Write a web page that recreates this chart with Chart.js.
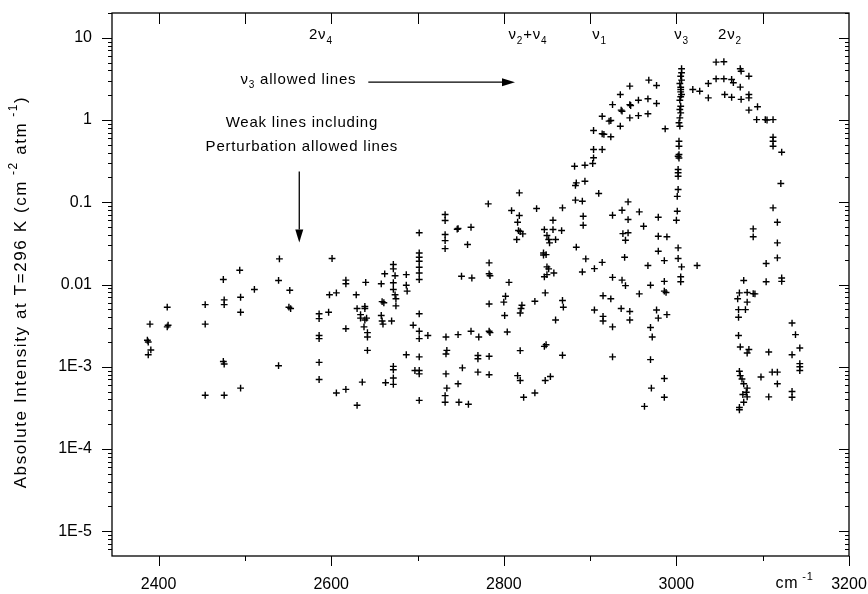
<!DOCTYPE html>
<html>
<head>
<meta charset="utf-8">
<script src="https://cdn.jsdelivr.net/npm/chart.js@4.4.1/dist/chart.umd.min.js"></script>
<style>
  html, body { margin: 0; padding: 0; background: #fff; }
</style>
</head>
<body>
<canvas id="chart" width="868" height="594"></canvas>
<script>
// ===== DATA (wavenumber cm-1, intensity cm-2 atm-1) =====

const lowBand = [
  [2390, 3.3e-3], [2387, 2.1e-3], [2388, 2.0e-3], [2391, 1.6e-3], [2388, 1.4e-3],
  [2410, 5.3e-3], [2410, 3.05e-3], [2411, 3.2e-3],
  [2454, 5.7e-3], [2454, 3.3e-3], [2454, 4.5e-4],
  [2475, 0.0115], [2476, 6.5e-3], [2476, 5.7e-3], [2475, 1.16e-3], [2476, 1.08e-3], [2476, 4.5e-4],
  [2494, 0.0149], [2495, 7.0e-3], [2495, 4.6e-3], [2495, 5.5e-4],
  [2511, 8.7e-3],
  [2540, 0.0205], [2539, 0.0112], [2539, 1.03e-3],
  [2552, 8.5e-3], [2551, 5.3e-3], [2553, 5.1e-3],
  [2586, 4.4e-3], [2586, 3.85e-3], [2586, 2.4e-3], [2586, 2.2e-3], [2586, 1.13e-3], [2586, 7.0e-4],
  [2597, 4.6e-3], [2598, 7.5e-3], [2601, 0.0207], [2606, 7.9e-3], [2606, 4.8e-4],
  [2617, 0.0113], [2617, 0.0102], [2617, 2.9e-3], [2617, 5.3e-4],
  [2629, 7.5e-3], [2630, 5.1e-3], [2630, 3.4e-4], [2634, 4.3e-3], [2634, 3.9e-3],
  [2639, 5.4e-3], [2639, 5.1e-3], [2639, 3.7e-3], [2638, 3.05e-3], [2641, 3.9e-3],
  [2642, 2.6e-3], [2642, 2.3e-3], [2642, 1.58e-3], [2636, 6.5e-4], [2640, 0.0106],
  [2658, 0.0102], [2662, 0.0135], [2659, 6.2e-3], [2661, 6.0e-3], [2658, 4.2e-3],
  [2659, 3.6e-3], [2660, 3.3e-3], [2670, 3.6e-3], [2663, 6.4e-4],
  [2672, 0.0175], [2672, 0.0155], [2674, 0.0128], [2672, 0.0105], [2672, 8.7e-3],
  [2674, 7.5e-3], [2675, 6.7e-3], [2675, 5.5e-3], [2672, 1.01e-3], [2672, 9.2e-4],
  [2672, 7.3e-4], [2672, 6.1e-4],
  [2687, 0.0132], [2687, 9.8e-3], [2688, 8.3e-3], [2687, 1.4e-3]
];

const midBand = [
  [2695, 3.2e-3],
  [2702, 0.0425], [2702, 0.0242], [2702, 0.0214], [2702, 0.0192], [2702, 0.0162],
  [2702, 0.0138], [2702, 0.0115], [2702, 4.4e-3], [2702, 2.7e-3], [2702, 2.2e-3],
  [2712, 2.4e-3], [2702, 1.32e-3], [2697, 9.0e-4], [2702, 9.0e-4], [2702, 8.2e-4], [2702, 3.9e-4],
  [2732, 0.0709], [2732, 0.06], [2732, 0.0405], [2732, 0.0342], [2732, 0.0273],
  [2733, 2.3e-3], [2734, 1.58e-3], [2733, 1.43e-3], [2733, 8.2e-4], [2734, 5.5e-4],
  [2732, 4.45e-4], [2732, 3.7e-4],
  [2747, 0.0479], [2746, 0.047], [2762, 0.0497], [2758, 0.0306], [2751, 0.0126], [2763, 0.012],
  [2747, 2.46e-3], [2762, 2.7e-3], [2771, 2.3e-3], [2752, 9.7e-4], [2747, 6.2e-4],
  [2748, 3.7e-4], [2759, 3.5e-4], [2770, 1.37e-3], [2770, 1.25e-3], [2770, 8.6e-4],
  [2782, 0.0956], [2783, 0.0183], [2783, 0.0135], [2784, 0.0128], [2783, 5.8e-3],
  [2783, 2.7e-3], [2784, 2.6e-3], [2783, 1.34e-3], [2783, 8.0e-4],
  [2806, 0.0106], [2802, 7.2e-3], [2800, 6.1e-3], [2801, 4.2e-3], [2804, 2.65e-3],
  [2818, 0.13], [2809, 0.0793], [2818, 0.0689], [2816, 0.0571], [2817, 0.0453],
  [2819, 0.044], [2822, 0.0413], [2815, 0.0352], [2821, 5.6e-3], [2820, 5.1e-3],
  [2819, 4.5e-3], [2819, 1.57e-3], [2816, 7.8e-4], [2819, 6.8e-4], [2823, 4.25e-4],
  [2836, 4.8e-4], [2836, 6.25e-3], [2838, 0.0838],
  [2847, 0.0466], [2857, 0.0604], [2857, 0.0466], [2867, 0.0453], [2850, 0.0394],
  [2852, 0.0352], [2860, 0.0352], [2853, 0.0321], [2868, 0.0855], [2846, 0.0242],
  [2849, 0.0231], [2846, 0.0228], [2850, 0.0164], [2852, 0.0155], [2858, 0.0138],
  [2847, 0.0124], [2850, 0.0132], [2848, 7.9e-3], [2860, 3.7e-3], [2868, 6.4e-3],
  [2869, 5.3e-3], [2868, 1.38e-3], [2847, 1.77e-3], [2849, 1.85e-3], [2848, 6.8e-4], [2854, 7.6e-4]
];

const nu1Band = [
  [2882, 0.274], [2894, 0.282], [2903, 0.296], [2883, 0.16], [2894, 0.18], [2884, 0.172],
  [2883, 0.106], [2891, 0.103], [2910, 0.128], [2892, 0.0676], [2892, 0.0525],
  [2884, 0.0284], [2895, 0.0205], [2891, 0.0142], [2905, 0.0156], [2914, 0.0186]
];

const nu3Pbranch = [
  [2968, 3.05], [2977, 2.63], [2946, 2.58], [2935, 2.04], [2967, 1.81], [2956, 1.74],
  [2926, 1.54], [2946, 1.54], [2947, 1.5], [2977, 1.59], [2936, 1.32], [2937, 1.28],
  [2914, 1.11], [2924, 0.986], [2922, 0.97], [2935, 0.841], [2946, 1.06], [2956, 1.13],
  [2967, 1.19], [2904, 0.745], [2914, 0.68], [2916, 0.67], [2924, 0.625], [2987, 0.782],
  [2904, 0.438], [2914, 0.438], [2904, 0.347]
];

const weakHigh = [
  [2926, 0.0695], [2937, 0.0799], [2944, 0.101], [2944, 0.0616], [2957, 0.0764],
  [2938, 0.0416], [2944, 0.0425], [2941, 0.0345], [2962, 0.0511], [2979, 0.0657],
  [2979, 0.0386], [2989, 0.038], [2979, 0.0254], [2986, 0.0195], [2967, 0.017],
  [2940, 0.0214], [2926, 0.0122], [2937, 0.0113], [2941, 9.7e-3], [2970, 9.8e-3],
  [2957, 7.7e-3], [2986, 0.0109], [2986, 8.3e-3], [2988, 8.0e-3], [2915, 7.3e-3],
  [2924, 6.7e-3], [2905, 4.9e-3], [2915, 4.1e-3], [2915, 3.6e-3], [2926, 3.05e-3],
  [2936, 5.1e-3], [2946, 4.7e-3], [2946, 3.7e-3], [2977, 4.9e-3], [2979, 3.9e-3],
  [2989, 4.3e-3], [2970, 3.0e-3], [2972, 2.3e-3], [2926, 1.32e-3], [2970, 1.22e-3],
  [2986, 7.2e-4], [2971, 5.5e-4], [2986, 4.25e-4], [2963, 3.3e-4], [3024, 0.017]
];

const nu3Qbranch = [
  [3006, 4.2], [3006, 3.75], [3005, 3.41], [3006, 3.05], [3004, 2.78], [3005, 2.5],
  [3005, 2.35], [3005, 2.2], [3006, 2.04], [3005, 1.92], [3004, 1.74], [3005, 1.47],
  [3004, 1.34], [3005, 1.22], [3004, 1.06], [3003, 0.925], [3004, 0.841], [3003, 0.552],
  [3003, 0.48], [3003, 0.38], [3002, 0.363], [3003, 0.345], [3002, 0.25], [3002, 0.228],
  [3002, 0.207], [3002, 0.143], [3001, 0.118], [3001, 0.0778], [3000, 0.0604],
  [3002, 0.0279], [3002, 0.0207], [3006, 0.0164], [3005, 0.0124], [3005, 0.0108]
];

const nu3Rbranch = [
  [3019, 2.35], [3027, 2.24], [3037, 2.78], [3037, 1.86], [3046, 5.05], [3055, 5.11],
  [3046, 3.17], [3055, 3.17], [3064, 3.11], [3066, 2.84], [3074, 4.2], [3075, 3.92],
  [3084, 3.41], [3074, 2.51], [3056, 2.04], [3064, 1.89], [3075, 1.78], [3084, 2.04],
  [3084, 1.86], [3084, 1.32], [3094, 1.45], [3093, 1.01], [3103, 1.01], [3105, 1.0],
  [3112, 1.01], [3112, 0.618], [3112, 0.552], [3112, 0.48], [3122, 0.406], [3121, 0.169],
  [3112, 0.0855], [3117, 0.0571], [3117, 0.0321], [3117, 0.0211], [3104, 0.018],
  [3104, 0.0108], [3122, 0.012], [3122, 0.0109], [3089, 0.0475], [3089, 0.038]
];

const weakEdge = [
  [3078, 0.0112], [3073, 7.9e-3], [3082, 8.0e-3], [3089, 7.75e-3], [3091, 7.7e-3],
  [3071, 6.7e-3], [3082, 6.1e-3], [3072, 4.95e-3], [3080, 4.95e-3], [3072, 4.0e-3],
  [3072, 2.4e-3], [3074, 1.74e-3], [3084, 1.62e-3], [3082, 1.47e-3], [3107, 1.51e-3],
  [3134, 3.4e-3], [3138, 2.46e-3], [3143, 1.69e-3], [3134, 1.4e-3], [3143, 1.09e-3],
  [3143, 1.0e-3], [3143, 9.0e-4], [3073, 8.8e-4], [3074, 7.8e-4], [3076, 7.1e-4],
  [3078, 6.2e-4], [3082, 5.5e-4], [3081, 4.9e-4], [3077, 4.6e-4], [3082, 4.3e-4],
  [3078, 3.7e-4], [3073, 3.2e-4], [3073, 3.0e-4], [3098, 7.5e-4], [3111, 8.6e-4],
  [3117, 8.6e-4], [3117, 6.2e-4], [3107, 4.3e-4], [3134, 5.0e-4], [3134, 4.25e-4]
];

const groups = [lowBand, midBand, nu1Band, nu3Pbranch, weakHigh, nu3Qbranch, nu3Rbranch, weakEdge];

const xTicks = [2400, 2600, 2800, 3000, 3200];

// band labels along the top: [wavenumber, intensity, parts]
const bandLabels = [
  [2588, 10.7, [["2ν", 0], ["4", -1]]],
  [2828, 10.7, [["ν", 0], ["2", -1], ["+ν", 0], ["4", -1]]],
  [2911, 10.7, [["ν", 0], ["1", -1]]],
  [3006, 10.7, [["ν", 0], ["3", -1]]],
  [3062, 10.7, [["2ν", 0], ["2", -1]]]
];

const noteLabels = [
  [2562, 3.1, [["ν", 0], ["3", -1], [" allowed lines", 0]]],
  [2566, 0.93, [["Weak lines including", 0]]],
  [2566, 0.476, [["Perturbation allowed lines", 0]]]
];

// arrows: [x1, y1, x2, y2]
const arrows = [
  [2643, 2.88, 2813, 2.88],
  [2563, 0.237, 2563, 0.0324]
];

const yTitle = [["Absolute Intensity at T=296 K (cm", 0], [" -2", 1], [" atm", 0], [" -1", 1], [")", 0]];

//
// ===== HELPERS =====
//

const FONT = "'Liberation Sans', Arial, sans-serif";

function drawRich(ctx, parts, cx, cy, size) {
  const fontOf = k => (k === 0 ? size : Math.round(size * 0.68)) + "px " + FONT;
  let total = 0;
  const widths = parts.map(([t, k]) => {
    ctx.font = fontOf(k);
    const w = ctx.measureText(t).width;
    total += w;
    return w;
  });
  let x = cx - total / 2;
  parts.forEach(([t, k], i) => {
    ctx.font = fontOf(k);
    const dy = k < 0 ? size * 0.38 : k > 0 ? -size * 0.42 : 0;
    ctx.fillText(t, x, cy + dy);
    x += widths[i];
  });
}

function line(ctx, x1, y1, x2, y2) {
  ctx.beginPath();
  ctx.moveTo(x1, y1);
  ctx.lineTo(x2, y2);
  ctx.stroke();
}

const framePlugin = {
  id: "frame",
  afterDraw(chart) {
    const { ctx, chartArea: a, scales: { x, y } } = chart;
    ctx.save();
    ctx.strokeStyle = "#000";
    ctx.fillStyle = "#000";
    ctx.lineWidth = 1.3;
    ctx.strokeRect(a.left, a.top, a.right - a.left, a.bottom - a.top);

    ctx.lineWidth = 1;
    // log ticks, left outward, right inward
    for (let e = -6; e <= 1; e++) {
      for (let m = 1; m <= 9; m++) {
        const v = m * Math.pow(10, e);
        if (v < y.min || v > y.max) continue;
        const py = Math.round(y.getPixelForValue(v)) + 0.5;
        const len = m === 1 ? 10 : 4;
        line(ctx, a.left - len, py, a.left, py);
        line(ctx, a.right - len, py, a.right, py);
      }
    }
    // x ticks
    for (let v = 2400; v <= 3200; v += 100) {
      const px = Math.round(x.getPixelForValue(v)) + 0.5;
      line(ctx, px, a.bottom, px, a.bottom + (v % 200 === 0 ? 10 : 5));
      if (v < 3200) line(ctx, px, a.top, px, a.top + 11);
    }

    // labels
    ctx.textBaseline = "middle";
    ctx.letterSpacing = "0.8px";
    bandLabels.forEach(([bx, by, parts]) =>
      drawRich(ctx, parts, x.getPixelForValue(bx), y.getPixelForValue(by), 15));
    noteLabels.forEach(([bx, by, parts]) =>
      drawRich(ctx, parts, x.getPixelForValue(bx), y.getPixelForValue(by), 15));

    drawRich(ctx, [["cm", 0], [" -1", 1]], x.getPixelForValue(3137), a.bottom + 28, 16);

    // arrows
    ctx.lineWidth = 1.3;
    arrows.forEach(([x1, y1, x2, y2]) => {
      const p1 = [x.getPixelForValue(x1), y.getPixelForValue(y1)];
      const p2 = [x.getPixelForValue(x2), y.getPixelForValue(y2)];
      const ang = Math.atan2(p2[1] - p1[1], p2[0] - p1[0]);
      const hl = 13, hw = 4;
      const bx = p2[0] - hl * Math.cos(ang), by = p2[1] - hl * Math.sin(ang);
      line(ctx, p1[0], p1[1], bx, by);
      ctx.beginPath();
      ctx.moveTo(p2[0], p2[1]);
      ctx.lineTo(bx + hw * Math.sin(ang), by - hw * Math.cos(ang));
      ctx.lineTo(bx - hw * Math.sin(ang), by + hw * Math.cos(ang));
      ctx.closePath();
      ctx.fill();
    });

    // y axis title
    ctx.translate(21, 292);
    ctx.rotate(-Math.PI / 2);
    ctx.letterSpacing = "1.6px";
    drawRich(ctx, yTitle, 0, 0, 17);
    ctx.restore();
  }
};

function decadeLabel(v) {
  const e = Math.round(Math.log10(v));
  if (Math.abs(v / Math.pow(10, e) - 1) > 1e-6) return null;
  if (e === 1) return "10";
  if (e === 0) return "1";
  if (e === -1) return "0.1";
  if (e === -2) return "0.01";
  return "1E" + e;
}

//
// ===== CHART =====
//

new Chart(document.getElementById("chart"), {
  type: "scatter",
  data: {
    datasets: groups.map(g => ({
      data: g.map(([wx, wy]) => ({ x: wx, y: wy })),
      pointStyle: "cross",
      pointRadius: 3.4,
      pointBorderWidth: 1.4,
      borderColor: "#000",
      backgroundColor: "#000"
    }))
  },
  options: {
    responsive: false,
    animation: false,
    events: [],
    layout: { padding: { top: 13, right: 19, left: 0, bottom: 0 } },
    plugins: { legend: { display: false }, tooltip: { enabled: false } },
    scales: {
      x: {
        type: "linear",
        min: 2346,
        max: 3200,
        afterFit: s => {
          s.height = 38;
          s.paddingLeft = 0;
          s.paddingRight = 0;
        },
        afterBuildTicks: s => {
          s.ticks = xTicks.map(v => ({ value: v }));
        },
        grid: { display: false, drawTicks: false },
        border: { display: false },
        ticks: {
          color: "#000",
          padding: 19,
          maxRotation: 0,
          autoSkip: false,
          font: { family: FONT, size: 16 },
          callback: v => String(v)
        }
      },
      y: {
        type: "logarithmic",
        min: 5e-6,
        max: 20,
        afterFit: s => {
          s.width = 112;
          s.paddingTop = 0;
          s.paddingBottom = 0;
        },
        grid: { display: false, drawTicks: false },
        border: { display: false },
        ticks: {
          color: "#000",
          padding: 20,
          autoSkip: false,
          font: { family: FONT, size: 16 },
          callback: v => decadeLabel(v)
        }
      }
    }
  },
  plugins: [framePlugin]
});
</script>
</body>
</html>
